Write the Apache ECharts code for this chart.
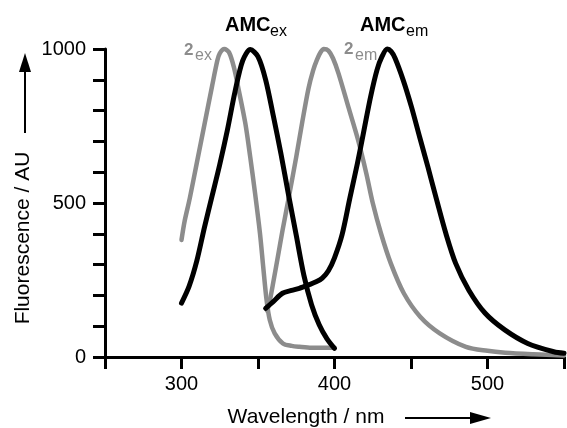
<!DOCTYPE html>
<html>
<head>
<meta charset="utf-8">
<script src="https://cdn.jsdelivr.net/npm/echarts@6/dist/echarts.min.js"></script>
<style>html,body{margin:0;padding:0;background:#fff}#c{width:567px;height:428px}</style>
</head>
<body>
<div id="c"></div>
<script>
// Data (wavelength nm, fluorescence AU)
var twoExX = [300,302,305.4,310,315,320,323.5,325,328,331,334.2,337.4,341.7,344.9,348.1,351.3,353.4,355.6,357.7,360.9,366.3,372,377,385,392,400];
var twoExY = [380,440,515,630,755,880,964,986,1000,990,942,867,759,650,531,401,293,185,120,77,44,36,33,30,30,30];
var amcExX = [300,305,310,315,320,325,330,335,340,345,350,355,360,365,370,375,380,385,390,395,400];
var amcExY = [175,230,312,421,523,625,737,862,962,998,975,900,783,660,525,395,265,170,105,60,28];
var twoEmX = [356,358,360,363,366,370,375,379,383,386,388.5,391,393,396,399,402.6,409,415.4,420.8,425,430.4,436.8,445.3,456,468.8,485.9,500,511.6,530,550];
var twoEmY = [150,190,243,326,410,515,650,765,872,930,965,990,1000,995,970,921,813,705,596,500,401,304,207,131,77,33,20,14,9,5];
var amcEmX = [355,360,366,372,377,383,388,392,396,400,405,410,415,419.3,423.6,427.8,431,434.5,437,439.6,444.9,450.3,455.6,461,466.5,472.8,479.2,487.8,498.5,511.3,526.3,543.3,550];
var amcEmY = [158,180,207,216,223,234,244,256,280,322,398,515,629,737,845,932,975,1000,992,970,899,812,715,618,515,401,304,217,142,88,44,17,12];
var xTickLabels = [300,400,500];
var yTickLabels = [0,500,1000];

function pairs(xs, ys){ return xs.map(function(x,i){ return [x, ys[i]]; }); }

var BLACK = '#000000', GRAY = '#8c8c8c';
var FONT = 'Liberation Sans, Arial, Helvetica, sans-serif';

var chart = echarts.init(document.getElementById('c'), null, {renderer:'canvas'});
function lineSeries(name, xs, ys, color, w){
  return {
    name: name, type: 'line', data: pairs(xs, ys), showSymbol: false, symbol: 'none',
    smooth: 0.3, lineStyle: {color: color, width: w, join: 'round', cap: 'round'}, z: color === BLACK ? 3 : 2, clip: false
  };
}
chart.setOption({
  animation: false,
  backgroundColor: '#fff',
  grid: {left: 105, top: 49, bottom: 71, right: -6, containLabel: false},
  xAxis: {
    type: 'value', min: 250, max: 550, interval: 50,
    axisLine: {show: true, lineStyle: {color: BLACK, width: 3}},
    axisTick: {show: true, inside: false, length: 12, lineStyle: {color: BLACK, width: 3}},
    axisLabel: {
      color: BLACK, fontSize: 20, fontFamily: FONT, margin: 17,
      formatter: function(v){ return xTickLabels.indexOf(v) >= 0 ? String(v) : ''; }
    },
    splitLine: {show: false}
  },
  yAxis: {
    type: 'value', min: 0, max: 1000, interval: 500,
    axisLine: {show: true, lineStyle: {color: BLACK, width: 3}},
    axisTick: {show: true, inside: false, length: 12, lineStyle: {color: BLACK, width: 3}},
    minorTick: {show: true, splitNumber: 5, length: 12, lineStyle: {color: BLACK, width: 3}},
    axisLabel: {
      color: BLACK, fontSize: 20, fontFamily: FONT, margin: 19,
      formatter: function(v){ return yTickLabels.indexOf(v) >= 0 ? String(v) : ''; }
    },
    splitLine: {show: false}, minorSplitLine: {show: false}
  },
  series: [
    lineSeries('2ex', twoExX, twoExY, GRAY, 4.5),
    lineSeries('2em', twoEmX, twoEmY, GRAY, 4.5),
    lineSeries('AMCex', amcExX, amcExY, BLACK, 5),
    lineSeries('AMCem', amcEmX, amcEmY, BLACK, 5)
  ],
  graphic: [
    // y axis title + arrow
    {type: 'text', x: 23, y: 238, rotation: Math.PI/2,
     style: {text: 'Fluorescence / AU', fill: BLACK, font: '21px ' + FONT, align: 'center', verticalAlign: 'middle'}},
    {type: 'line', shape: {x1: 25, y1: 133, x2: 25, y2: 70}, style: {stroke: BLACK, lineWidth: 2}},
    {type: 'polygon', shape: {points: [[19,72],[31,72],[25,53]]}, style: {fill: BLACK}},
    // x axis title + arrow
    {type: 'text', x: 306, y: 417,
     style: {text: 'Wavelength / nm', fill: BLACK, font: '21px ' + FONT, align: 'center', verticalAlign: 'middle'}},
    {type: 'line', shape: {x1: 405, y1: 418, x2: 473, y2: 418}, style: {stroke: BLACK, lineWidth: 2}},
    {type: 'polygon', shape: {points: [[470,412],[470,424],[491,418]]}, style: {fill: BLACK}},
    // annotations
    {type: 'text', x: 225, y: 25, style: {text: 'AMC', fill: BLACK, font: 'bold 20px ' + FONT, align: 'left', verticalAlign: 'middle'}},
    {type: 'text', x: 270, y: 31.5, style: {text: 'ex', fill: BLACK, font: '16px ' + FONT, align: 'left', verticalAlign: 'middle'}},
    {type: 'text', x: 360, y: 25, style: {text: 'AMC', fill: BLACK, font: 'bold 20px ' + FONT, align: 'left', verticalAlign: 'middle'}},
    {type: 'text', x: 406, y: 31.5, style: {text: 'em', fill: BLACK, font: '16px ' + FONT, align: 'left', verticalAlign: 'middle'}},
    {type: 'text', x: 184, y: 50, style: {text: '2', fill: GRAY, font: 'bold 17px ' + FONT, align: 'left', verticalAlign: 'middle'}},
    {type: 'text', x: 195, y: 55.5, style: {text: 'ex', fill: GRAY, font: '16px ' + FONT, align: 'left', verticalAlign: 'middle'}},
    {type: 'text', x: 344, y: 49, style: {text: '2', fill: GRAY, font: 'bold 17px ' + FONT, align: 'left', verticalAlign: 'middle'}},
    {type: 'text', x: 355, y: 55.5, style: {text: 'em', fill: GRAY, font: '16px ' + FONT, align: 'left', verticalAlign: 'middle'}}
  ]
});
</script>
</body>
</html>
